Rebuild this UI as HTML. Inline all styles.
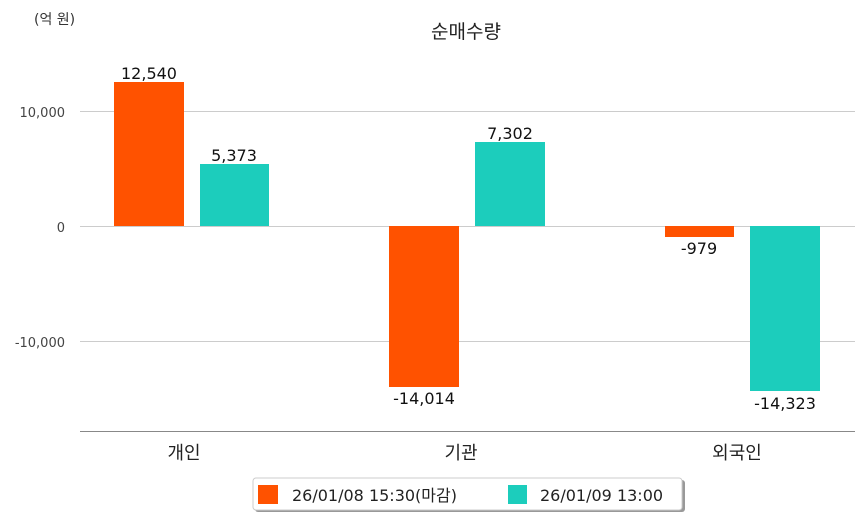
<!DOCTYPE html>
<html><head><meta charset="utf-8"><style>
html,body{margin:0;padding:0;background:#fff;}
svg{display:block;font-family:"DejaVu Sans","Noto Sans CJK KR",sans-serif;}
</style></head><body>
<svg width="863" height="520" viewBox="0 0 863 520" xmlns="http://www.w3.org/2000/svg">
<rect width="863" height="520" fill="#fff"/>
<text x="34" y="24" font-size="14" fill="#333">(억 원)</text>
<text x="466" y="38" font-size="19" fill="#222" text-anchor="middle">순매수량</text>
<g stroke="#cccccc" stroke-width="1">
<line x1="80" y1="111.5" x2="855" y2="111.5"/>
<line x1="80" y1="226.5" x2="855" y2="226.5"/>
<line x1="80" y1="341.5" x2="855" y2="341.5"/>
</g>
<line x1="80" y1="431.5" x2="855" y2="431.5" stroke="#888" stroke-width="1"/>
<g font-size="13" fill="#444" text-anchor="end">
<text x="65" y="117">10,000</text>
<text x="65" y="232">0</text>
<text x="65" y="347">-10,000</text>
</g>
<g fill="#ff5200">
<rect x="114" y="82" width="70" height="144"/>
<rect x="389" y="226" width="70" height="161"/>
<rect x="665" y="226" width="69" height="11"/>
</g>
<g fill="#1ccdbc">
<rect x="200" y="164" width="69" height="62"/>
<rect x="475" y="142" width="70" height="84"/>
<rect x="750" y="226" width="70" height="165"/>
</g>
<g font-size="16" fill="#111" text-anchor="middle">
<text x="149" y="79">12,540</text>
<text x="234" y="161">5,373</text>
<text x="424" y="404">-14,014</text>
<text x="510" y="139">7,302</text>
<text x="699" y="254">-979</text>
<text x="785" y="409">-14,323</text>
</g>
<g font-size="18" fill="#222" text-anchor="middle">
<text x="184" y="459">개인</text>
<text x="461" y="459">기관</text>
<text x="737" y="459">외국인</text>
</g>
<rect x="255" y="480" width="430" height="32" rx="3" fill="#999"/>
<rect x="253" y="478" width="429" height="32" rx="3" fill="#fff" stroke="#ccc"/>
<rect x="258" y="485" width="20" height="19" fill="#ff5200"/>
<rect x="508" y="485" width="19" height="19" fill="#1ccdbc"/>
<text x="292" y="501" font-size="16" fill="#222">26/01/08 15:30(마감)</text>
<text x="540" y="501" font-size="16" fill="#222">26/01/09 13:00</text>
</svg>
</body></html>
